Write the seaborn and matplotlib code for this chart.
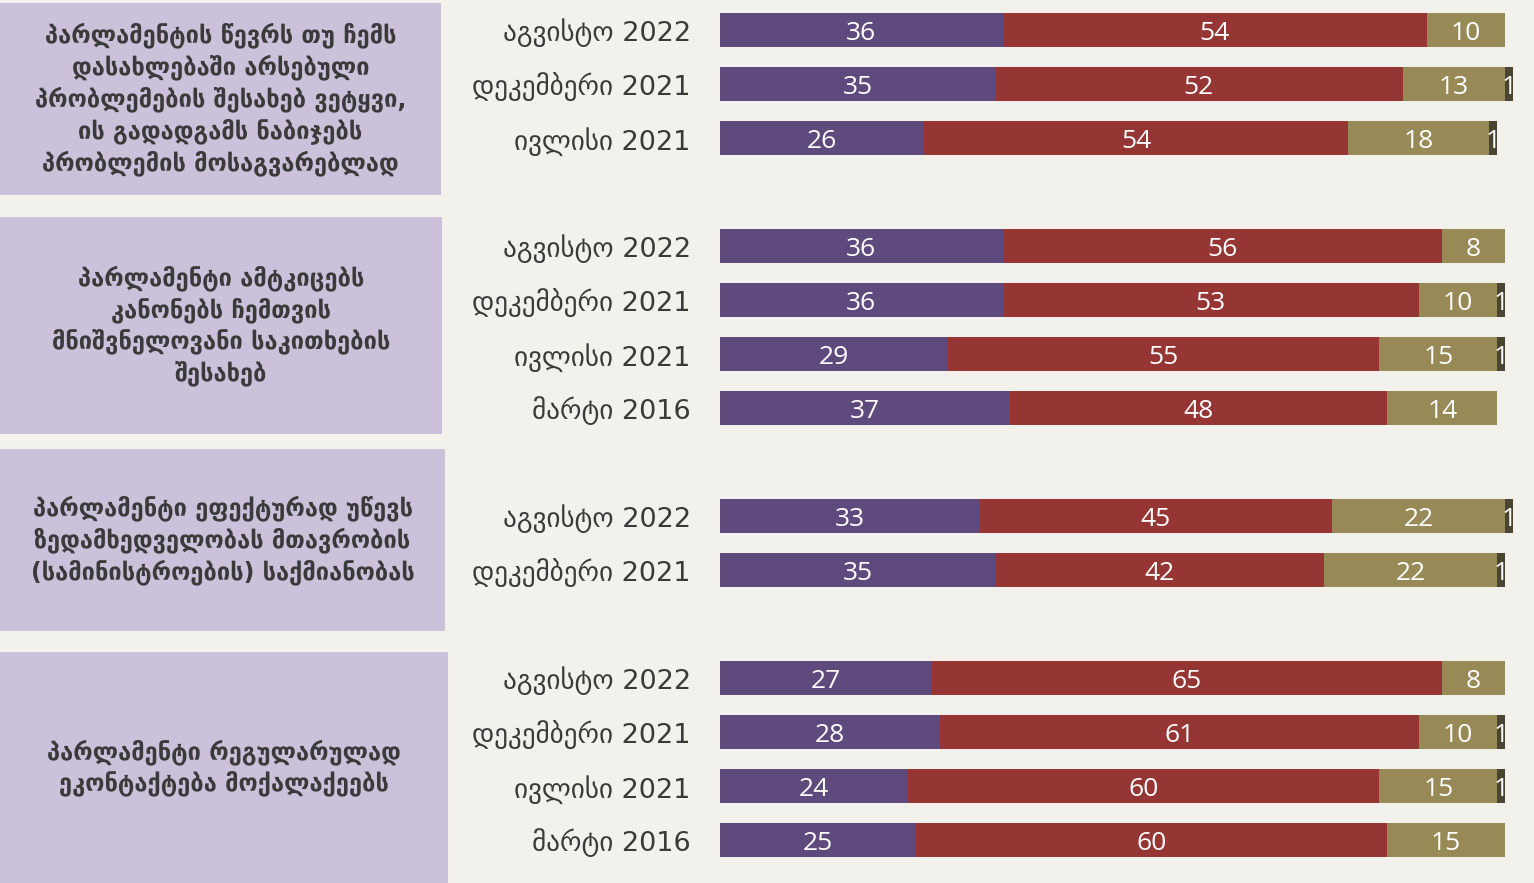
import matplotlib
matplotlib.use("Agg")
import matplotlib.pyplot as plt
from matplotlib.patches import Rectangle
import numpy as np
import pandas as pd
import seaborn as sns

# ---- data -------------------------------------------------------------
statements = [
    "პარლამენტის წევრს თუ ჩემს\nდასახლებაში არსებული\nპრობლემების შესახებ ვეტყვი,\nის გადადგამს ნაბიჯებს\nპრობლემის მოსაგვარებლად",
    "პარლამენტი ამტკიცებს\nკანონებს ჩემთვის\nმნიშვნელოვანი საკითხების\nშესახებ",
    "პარლამენტი ეფექტურად უწევს\nზედამხედველობას მთავრობის\n(სამინისტროების) საქმიანობას",
    "პარლამენტი რეგულარულად\nეკონტაქტება მოქალაქეებს",
]

group1_waves = ["აგვისტო 2022", "დეკემბერი 2021", "ივლისი 2021"]
group2_waves = ["აგვისტო 2022", "დეკემბერი 2021", "ივლისი 2021", "მარტი 2016"]
group3_waves = ["აგვისტო 2022", "დეკემბერი 2021"]
group4_waves = ["აგვისტო 2022", "დეკემბერი 2021", "ივლისი 2021", "მარტი 2016"]

# purple / red / olive / dark segments per wave
group1_agree = [36, 35, 26]
group1_disagree = [54, 52, 54]
group1_dontknow = [10, 13, 18]
group1_refuse = [0, 1, 1]

group2_agree = [36, 36, 29, 37]
group2_disagree = [56, 53, 55, 48]
group2_dontknow = [8, 10, 15, 14]
group2_refuse = [0, 1, 1, 0]

group3_agree = [33, 35]
group3_disagree = [45, 42]
group3_dontknow = [22, 22]
group3_refuse = [1, 1]

group4_agree = [27, 28, 24, 25]
group4_disagree = [65, 61, 60, 60]
group4_dontknow = [8, 10, 15, 15]
group4_refuse = [0, 1, 1, 0]

# ---- styling ------------------------------------------------------------
BG = "#F3F1EC"
BOX = "#CBC1DA"
COLORS = ["#5E4A7C", "#953634", "#978A57", "#4A4430"]
TEXT_DARK = "#3A3A3A"

sns.set_theme(style="white")
plt.rcParams["font.family"] = ["DejaVu Sans"]

W, H = 1534, 883
fig = plt.figure(figsize=(W / 100, H / 100), dpi=100, facecolor=BG)

# ---- assemble table (one blank slot between statement groups) -----------
groups = [
    (group1_waves, group1_agree, group1_disagree, group1_dontknow, group1_refuse),
    (group2_waves, group2_agree, group2_disagree, group2_dontknow, group2_refuse),
    (group3_waves, group3_agree, group3_disagree, group3_dontknow, group3_refuse),
    (group4_waves, group4_agree, group4_disagree, group4_dontknow, group4_refuse),
]
rows = []
slot = 0
for g, (waves, a, d, k, r) in enumerate(groups):
    for i, w in enumerate(waves):
        rows.append(dict(pos=slot, wave=w, group=g, agree=a[i], disagree=d[i],
                         dontknow=k[i], refuse=r[i]))
        slot += 1
    slot += 1
df = pd.DataFrame(rows)
parts = ["agree", "disagree", "dontknow", "refuse"]
cum = df[parts].cumsum(axis=1)
for p in parts:
    df["cum_" + p] = cum[p]

# ---- bar axes -----------------------------------------------------------
x0, x100 = 720, 1505            # pixel positions of 0 % and 100 %
XMAX = 103
px_per_unit = (x100 - x0) / 100
top_center, step = 30, 54
ax = fig.add_axes([x0 / W, 0, XMAX * px_per_unit / W, 1])
ax.set_facecolor("none")

# stacked bars: draw cumulative totals from the outermost layer inward
for p, c in reversed(list(zip(parts, COLORS))):
    sns.barplot(data=df, x="cum_" + p, y="pos", orient="h", native_scale=True,
                color=c, saturation=1, width=0.62, linewidth=0,
                errorbar=None, ax=ax)

ax.set_xlim(0, XMAX)
ax.set_ylim((H - top_center) / step, -top_center / step)
for s in ax.spines.values():
    s.set_visible(False)
ax.set_xticks([])
ax.set_xlabel("")
ax.set_ylabel("")
ax.set_yticks(df["pos"], df["wave"], fontsize=19.5, color=TEXT_DARK)
ax.tick_params(axis="y", length=0, pad=21)

# value labels
for _, row in df.iterrows():
    left = 0
    for p in parts:
        v = row[p]
        if v > 0:
            ax.text(left + v / 2, row["pos"] + 0.06, f"{v}", ha="center", va="center",
                    color="white", fontsize=19, family=["Open Sans", "DejaVu Sans"])
        left += v

# ---- statement boxes on the left ---------------------------------------
boxes = [(0, 3, 441, 195), (0, 217, 442, 434), (0, 449, 445, 631), (0, 652, 448, 883)]
for (bx0, by0, bx1, by1), text in zip(boxes, statements):
    fig.patches.append(Rectangle((bx0 / W, 1 - by1 / H), (bx1 - bx0) / W, (by1 - by0) / H,
                                 transform=fig.transFigure, facecolor=BOX,
                                 edgecolor="none", zorder=0))
    fig.text((bx0 + bx1) / 2 / W, 1 - (by0 + by1) / 2 / H, text, ha="center", va="center",
             fontsize=17, color=TEXT_DARK, linespacing=1.3, fontweight="bold")

fig.savefig("out.png", dpi=100, facecolor=BG)
